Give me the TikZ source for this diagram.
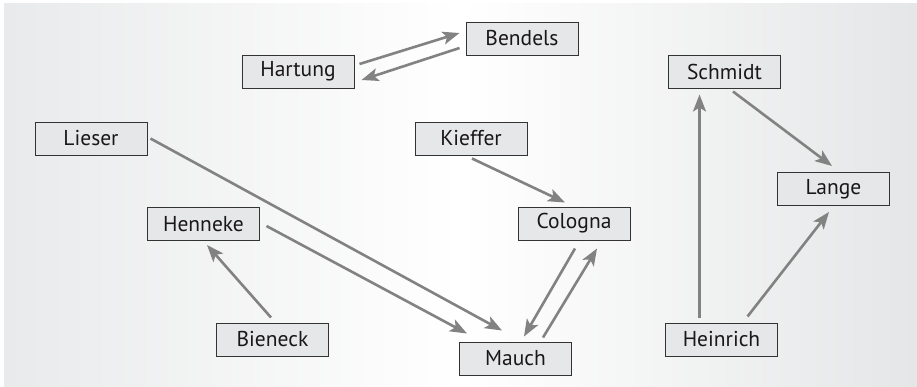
\documentclass[tikz,border=0pt]{standalone}
\usepackage{fontspec}
\setmainfont{PT Sans}
\usetikzlibrary{arrows.meta,calc}
\definecolor{bgleft}{HTML}{E9EAEB}
\definecolor{bgright}{HTML}{E5E6E7}
\definecolor{boxfill}{HTML}{E6E7E9}
\definecolor{boxline}{HTML}{333333}
\definecolor{arrowgray}{HTML}{828282}
\definecolor{txt}{HTML}{1A1718}
\begin{document}
\begin{tikzpicture}[x=1pt,y=-1pt,
  person/.style={draw=boxline,line width=1pt,fill=boxfill,minimum width=112pt,minimum height=33pt,inner sep=0pt,text=txt,font=\fontsize{21.5}{23}\selectfont},
  rel/.style={draw=arrowgray,line width=2.6pt,-{Stealth[length=17pt,width=13pt,inset=4pt]}}]
\useasboundingbox (0,0) rectangle (917,386);
\shade[left color=bgleft,right color=bgright,middle color=white] (4,3) rectangle (917,386);
\node[person] (Hartung) at (298,71.5) {Hartung};
\node[person] (Bendels) at (522,38.5) {Bendels};
\node[person] (Lieser) at (91,138.5) {Lieser};
\node[person] (Henneke) at (203.5,224) {Henneke};
\node[person] (Kieffer) at (471,138.5) {Kieffer};
\node[person] (Cologna) at (574,223.5) {Cologna};
\node[person] (Bieneck) at (272.5,339.5) {Bieneck};
\node[person] (Mauch) at (515.5,358.5) {Mauch};
\node[person] (Schmidt) at (724.5,71.5) {Schmidt};
\node[person] (Lange) at (833.5,189) {Lange};
\node[person] (Heinrich) at (721.5,339.5) {Heinrich};
\draw[rel] ($(Hartung.east)+(5,-7.5)$) -- ($(Bendels.west)+(-6,-5.5)$);
\draw[rel] ($(Bendels.west)+(-6,9.5)$) -- ($(Hartung.east)+(7,8.5)$);
\draw[rel] ($(Lieser.east)+(3,0)$) -- ($(Mauch.north)+(-13.5,-11)$);
\draw[rel] ($(Henneke.east)+(6.5,2)$) -- ($(Mauch.north)+(-48.5,-8)$);
\draw[rel] ($(Bieneck.north)+(-1.5,-5)$) -- ($(Henneke.south)+(3.5,4)$);
\draw[rel] ($(Kieffer.south)+(1,3)$) -- ($(Cologna.north)+(-9,-4)$);
\draw[rel] ($(Cologna.south)+(1,8)$) -- ($(Mauch.north)+(8.5,-5)$);
\draw[rel] ($(Mauch.north)+(27.5,-4)$) -- ($(Cologna.south)+(23,8)$);
\draw[rel] ($(Heinrich.north)+(-22,-5)$) -- ($(Schmidt.south)+(-25,6)$);
\draw[rel] ($(Schmidt.south)+(8.5,3)$) -- ($(Lange.north)+(-1.5,-6)$);
\draw[rel] ($(Heinrich.north)+(26,-6)$) -- ($(Lange.south)+(-4.5,6)$);
\end{tikzpicture}
\end{document}
